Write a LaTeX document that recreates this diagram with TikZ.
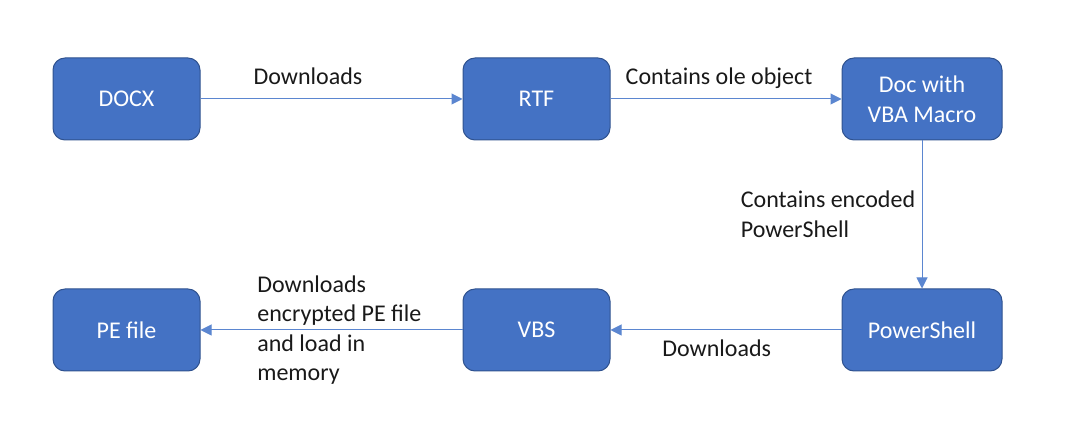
\documentclass[tikz,border=0pt]{standalone}
\usepackage{fontspec}
\setmainfont{Carlito}
\usetikzlibrary{arrows.meta}
\definecolor{boxblue}{HTML}{4472C4}
\definecolor{boxedge}{HTML}{2F528F}
\definecolor{linkblue}{HTML}{5B86D0}

\begin{document}
\begin{tikzpicture}[x=1pt,y=1pt,node distance=410pt,
                    main node/.style={rectangle,rounded corners=12pt,draw=boxedge,line width=1pt,
                      fill=boxblue,text=white,minimum width=147pt,minimum height=82pt,
                      align=center,font=\fontsize{24}{30}\selectfont},
                    wide node/.style={main node,minimum width=160pt},
                    link/.style={draw=linkblue,line width=1pt,-{Triangle[length=11pt,width=11pt]}}]
  \useasboundingbox (0,0) rectangle (1080,442);

  %Top row%
  \node[main node] (docx) at (126.5,343) {DOCX};
  \node[main node] (rtf) [right of=docx] {RTF};
  \node[wide node] (vba) [right of=rtf, node distance=385.5pt] {Doc with\\VBA Macro};
  %Bottom row%
  \node[wide node] (ps) [below of=vba, node distance=231pt] {PowerShell};
  \node[main node] (vbs) [below of=rtf, node distance=231pt] {VBS};
  \node[main node] (pe) [below of=docx, node distance=231pt] {PE file};

  \path[every edge/.style={link},
        every node/.style={font=\fontsize{24}{29.5}\selectfont,text=black!90,align=left}]
    %Top row%
    (docx) edge node [pos=0.41, above=10pt] {Downloads} (rtf)
    (rtf) edge node [pos=0.47, above=7pt] {Contains ole object} (vba)
    %Down%
    (vba) edge node [left=3pt] {Contains encoded\\PowerShell} (ps)
    %Bottom row%
    (ps) edge node [pos=0.54, below=6pt] {Downloads} (vbs)
    (vbs) edge node [pos=0.47, anchor=center] {Downloads\\encrypted PE file\\and load in\\memory} (pe);
\end{tikzpicture}
\end{document}
